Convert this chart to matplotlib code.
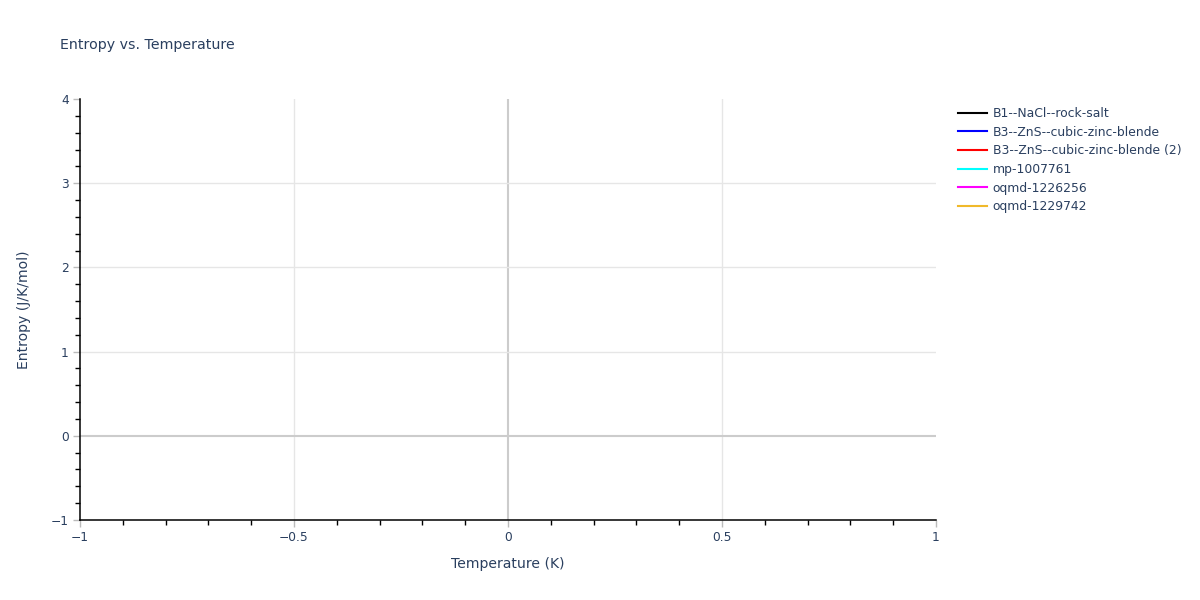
import matplotlib
matplotlib.use("Agg")
import matplotlib.pyplot as plt
from matplotlib.ticker import MultipleLocator, FuncFormatter

plt.rcParams['font.family'] = ['DejaVu Sans']

# Data (all series are empty in the reference)
series_names = ["B1--NaCl--rock-salt", "B3--ZnS--cubic-zinc-blende",
                "B3--ZnS--cubic-zinc-blende (2)", "mp-1007761",
                "oqmd-1226256", "oqmd-1229742"]
series_colors = ["black", "blue", "red", "cyan", "magenta", "#f0b92a"]
temperatures = [[], [], [], [], [], []]
entropies = [[], [], [], [], [], []]
x_range = [-1, 1]
y_range = [-1, 4]
x_ticks = [-1, -0.5, 0, 0.5, 1]
y_ticks = [-1, 0, 1, 2, 3, 4]

TXT = "#2a3f5f"
W, H = 1200, 600
fig = plt.figure(figsize=(12, 6), dpi=100)
ax = fig.add_axes([80 / W, (H - 520) / H, 856 / W, 421 / H])

for name, col, xs, ys in zip(series_names, series_colors, temperatures, entropies):
    ax.plot(xs, ys, color=col, lw=1.5, label=name)

ax.set_xlim(*x_range)
ax.set_ylim(*y_range)

# grid
for xv in x_ticks:
    if xv in x_range:
        continue
    ax.axvline(xv, color="#cccccc" if xv == 0 else "#e6e6e6", lw=1.5 if xv == 0 else 1.0, zorder=0.5)
for yv in y_ticks:
    if yv in y_range:
        continue
    ax.axhline(yv, color="#cccccc" if yv == 0 else "#e6e6e6", lw=1.5 if yv == 0 else 1.0, zorder=0.5)

for s in ["top", "right"]:
    ax.spines[s].set_visible(False)
for s in ["left", "bottom"]:
    ax.spines[s].set_color("black")
    ax.spines[s].set_linewidth(1.1)

fmt = FuncFormatter(lambda v, p: ("%g" % v).replace("-", "\u2212"))
ax.set_xticks(x_ticks)
ax.set_yticks(y_ticks)
ax.xaxis.set_major_formatter(fmt)
ax.yaxis.set_major_formatter(fmt)
ax.xaxis.set_minor_locator(MultipleLocator(0.1))
ax.yaxis.set_minor_locator(MultipleLocator(0.2))
ax.tick_params(which="major", direction="out", length=5, width=1, color="#bbbbbb",
               labelsize=8.8, labelcolor=TXT, pad=3)
ax.tick_params(which="minor", direction="out", length=3.5, width=1, color="black")

ax.set_xlabel("Temperature (K)", fontsize=10.1, color=TXT, labelpad=9)
ax.set_ylabel("Entropy (J/K/mol)", fontsize=10.1, color=TXT, labelpad=14)

fig.text(60 / W, 1 - 45 / H, "Entropy vs. Temperature", fontsize=10.2, color=TXT,
         ha="left", va="center")

leg = ax.legend(loc="upper left", bbox_to_anchor=(958 / W, 1 - 107 / H),
                bbox_transform=fig.transFigure, frameon=False, fontsize=8.9,
                handlelength=2.35, handletextpad=0.45, labelspacing=0.46,
                borderaxespad=0, borderpad=0)
for t in leg.get_texts():
    t.set_color(TXT)

fig.savefig("out.png", dpi=100)
